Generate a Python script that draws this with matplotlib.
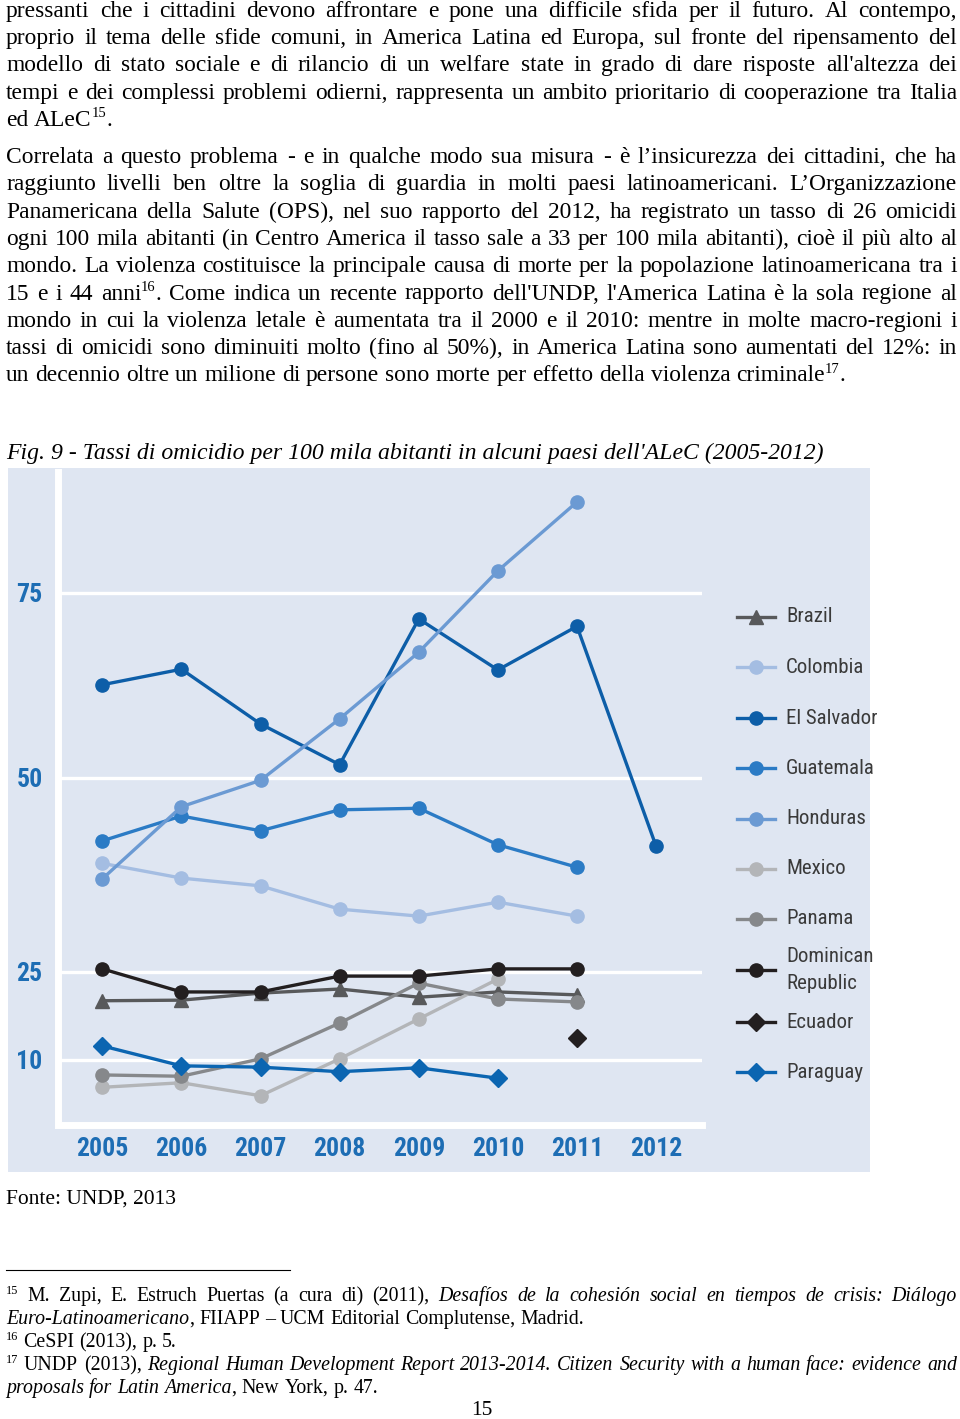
import numpy as np
import matplotlib
matplotlib.use("Agg")
import matplotlib.pyplot as plt
from matplotlib import font_manager
from matplotlib.lines import Line2D
from matplotlib.patches import Rectangle

W, H = 960, 1419
nan = np.nan

# ---- data: homicide rates per 100k inhabitants ----
years = [2005, 2006, 2007, 2008, 2009, 2010, 2011, 2012]
brazil = [20.1, 20.2, 21.4, 22.1, 20.7, 21.6, 21.1, nan]
colombia = [39.0, 37.1, 36.1, 33.1, 32.2, 34.0, 32.2, nan]
el_salvador = [62.6, 64.7, 57.3, 51.8, 71.5, 64.6, 70.5, 41.2]
guatemala = [41.9, 45.1, 43.2, 45.9, 46.1, 41.4, 38.5, nan]
honduras = [37.0, 46.3, 49.7, 58.0, 67.0, 78.0, 87.3, nan]
mexico = [5.8, 6.5, 4.5, 10.2, 17.0, 23.8, nan, nan]
panama = [7.7, 7.5, 10.2, 16.3, 23.1, 20.4, 19.9, nan]
dominican_rep = [25.4, 21.6, 21.6, 24.3, 24.3, 25.4, 25.4, nan]
ecuador = [nan, nan, nan, nan, nan, nan, 13.8, nan]
paraguay = [12.4, 9.1, 8.9, 8.2, 8.8, 7.2, nan, nan]

countries = ["Brazil", "Colombia", "El Salvador", "Guatemala", "Honduras",
             "Mexico", "Panama", "Dominican\nRepublic", "Ecuador", "Paraguay"]
series = [brazil, colombia, el_salvador, guatemala, honduras,
          mexico, panama, dominican_rep, ecuador, paraguay]
colors = ["#58595b", "#a4bde2", "#0d5ea8", "#2b7bc5", "#6b9ad3",
          "#b3b5b8", "#86888b", "#231f20", "#231f20", "#0b65b1"]
markers = ["^", "o", "o", "o", "o", "o", "o", "o", "D", "D"]
y_ticks = [10, 25, 50, 75]

# the original chart uses an uneven vertical scale; anchor values -> positions
scale_vals = [0, 10, 25, 50, 75, 100]
scale_pos = [0, 65, 153, 347, 532, 717]


def fwd(v):
    v = np.asarray(v, dtype=float)
    out = np.interp(v, scale_vals, scale_pos)
    return np.where(np.isnan(v), nan, out)


def inv(p):
    p = np.asarray(p, dtype=float)
    out = np.interp(p, scale_pos, scale_vals)
    return np.where(np.isnan(p), nan, out)


names = {f.name for f in font_manager.fontManager.ttflist}
COND = next((n for n in ["Liberation Sans Narrow", "Roboto Condensed",
                         "Open Sans Condensed", "DejaVu Sans"] if n in names), "DejaVu Sans")
SERIF = "Liberation Serif"
BG = "#dfe6f2"
BLUE = "#1d6db4"

fig = plt.figure(figsize=(W / 100, H / 100), dpi=100)
renderer = fig.canvas.get_renderer()


def fy(y):
    return 1 - y / H


# ---- running text helpers (justified lines) ----
def split_words(runs):
    words = [[]]
    for txt, st in runs:
        parts = txt.split(" ")
        for k, p in enumerate(parts):
            if k > 0:
                words.append([])
            if p:
                words[-1].append((p, st))
    return [w for w in words if w]


def space_width(size, style):
    a = fig.text(0, 0, "a a", fontsize=size, family=SERIF, style=style)
    b = fig.text(0, 0, "aa", fontsize=size, family=SERIF, style=style)
    w = a.get_window_extent(renderer).width - b.get_window_extent(renderer).width
    a.remove()
    b.remove()
    return w


def draw_line(y, runs, size, justify, x0=6, x1=957):
    words = split_words(runs)
    placed = []
    total = 0
    for w in words:
        pieces = []
        ww = 0
        for txt, st in w:
            if st == "s":
                t = fig.text(0, 0, txt, fontsize=size * 0.62, family=SERIF,
                             va="baseline")
                dy = -size * 1.389 * 0.36
            else:
                t = fig.text(0, 0, txt, fontsize=size, family=SERIF,
                             style="italic" if st == "i" else "normal",
                             va="baseline")
                dy = 0
            wd = t.get_window_extent(renderer).width
            pieces.append((t, wd, dy))
            ww += wd
        placed.append(pieces)
        total += ww
    if justify and len(words) > 1:
        gap = (x1 - x0 - total) / (len(words) - 1)
    else:
        gap = space_width(size, "normal")
    x = x0
    for pieces in placed:
        for t, wd, dy in pieces:
            t.set_position((x / W, fy(y + dy)))
            x += wd
        x += gap


BODY = 16.9
para1 = [
    [("pressanti che i cittadini devono affrontare e pone una difficile sfida per il futuro. Al contempo,", "n")],
    [("proprio il tema delle sfide comuni, in America Latina ed Europa, sul fronte del ripensamento del", "n")],
    [("modello di stato sociale e di rilancio di un welfare state in grado di dare risposte all'altezza dei", "n")],
    [("tempi e dei complessi problemi odierni, rappresenta un ambito prioritario di cooperazione tra Italia", "n")],
    [("ed ALeC", "n"), ("15", "s"), (".", "n")],
]
para2 = [
    [("Correlata a questo problema - e in qualche modo sua misura - è l\u2019insicurezza dei cittadini, che ha", "n")],
    [("raggiunto livelli ben oltre la soglia di guardia in molti paesi latinoamericani. L\u2019Organizzazione", "n")],
    [("Panamericana della Salute (OPS), nel suo rapporto del 2012, ha registrato un tasso di 26 omicidi", "n")],
    [("ogni 100 mila abitanti (in Centro America il tasso sale a 33 per 100 mila abitanti), cioè il più alto al", "n")],
    [("mondo. La violenza costituisce la principale causa di morte per la popolazione latinoamericana tra i", "n")],
    [("15 e i 44 anni", "n"), ("16", "s"), (". Come indica un recente rapporto dell'UNDP, l'America Latina è la sola regione al", "n")],
    [("mondo in cui la violenza letale è aumentata tra il 2000 e il 2010: mentre in molte macro-regioni i", "n")],
    [("tassi di omicidi sono diminuiti molto (fino al 50%), in America Latina sono aumentati del 12%: in", "n")],
    [("un decennio oltre un milione di persone sono morte per effetto della violenza criminale", "n"), ("17", "s"), (".", "n")],
]
for i, runs in enumerate(para1):
    draw_line(16.7 + i * 27.3, runs, BODY, i < len(para1) - 1)
for i, runs in enumerate(para2):
    draw_line(163 + i * 27.3, runs, BODY, i < len(para2) - 1)

# caption (condensed italic in the original -> fit to its width)
cap = "Fig. 9 - Tassi di omicidio per 100 mila abitanti in alcuni paesi dell'ALeC (2005-2012)"
t = fig.text(6 / W, fy(459), cap, fontsize=BODY, family=SERIF, style="italic", va="baseline")
t.set_fontsize(BODY * 816 / t.get_window_extent(renderer).width)

# source
fig.text(6 / W, fy(1204), "Fonte: UNDP, 2013", fontsize=15.5, family=SERIF, va="baseline")

# footnotes
FN = 14.3
fig.add_artist(Line2D([6 / W, 290 / W], [fy(1270), fy(1270)], color="black", lw=0.8))
draw_line(1301, [("15", "s"), (" M. Zupi, E. Estruch Puertas (a cura di) (2011), ", "n"),
                 ("Desafíos de la cohesión social en tiempos de crisis: Diálogo", "i")], FN, True)
draw_line(1324, [("Euro-Latinoamericano", "i"), (", FIIAPP \u2013 UCM Editorial Complutense, Madrid.", "n")], FN, False)
draw_line(1347, [("16", "s"), (" CeSPI (2013), p. 5.", "n")], FN, False)
draw_line(1370, [("17", "s"), (" UNDP (2013), ", "n"),
                 ("Regional Human Development Report 2013-2014. Citizen Security with a human face: evidence and", "i")],
          FN, True)
draw_line(1393, [("proposals for Latin America", "i"), (", New York, p. 47.", "n")], FN, False)

fig.text(482 / W, fy(1415), "15", fontsize=15.5, family=SERIF, va="baseline", ha="center")

# ---- chart ----
fig.add_artist(Rectangle((8 / W, fy(1172)), (870 - 8) / W, (1172 - 468) / H,
                         transform=fig.transFigure, facecolor=BG, edgecolor="none", zorder=-5))

ax = fig.add_axes([58 / W, fy(1125), (702 - 58) / W, (1125 - 472) / H])
ax.set_facecolor(BG)
ax.set_yscale("function", functions=(fwd, inv))
ax.set_ylim(0, 91.35)
ax.set_xlim(2004.44, 2012.58)

for vals, c, m in zip(series, colors, markers):
    ms = 10.5 if m == "^" else (9 if m == "D" else 9.5)
    ax.plot(years, vals, color=c, lw=2.4, marker=m, ms=ms, mec=c, mfc=c, zorder=3)

ax.set_yticks(y_ticks)
ax.set_yticklabels([str(v) for v in y_ticks])
ax.set_xticks(years)
ax.set_xticklabels([str(v) for v in years])
ax.yaxis.grid(True, color="white", lw=2.4)
ax.xaxis.grid(False)
ax.set_axisbelow(True)
ax.tick_params(length=0)
ax.tick_params(axis="y", pad=11)
ax.tick_params(axis="x", pad=9)
for lab in ax.get_yticklabels() + ax.get_xticklabels():
    lab.set_fontfamily(COND)
    lab.set_fontweight("bold")
    lab.set_fontsize(18.5)
    lab.set_color(BLUE)
for s in ["top", "right"]:
    ax.spines[s].set_visible(False)
for s in ["left", "bottom"]:
    ax.spines[s].set_color("white")
    ax.spines[s].set_linewidth(5)

# legend drawn by hand to keep the original spacing
leg_y = [617, 667, 718, 768, 819, 869, 919, 970, 1022, 1072]
for name, c, m, ly in zip(countries, colors, markers, leg_y):
    ms = 10.5 if m == "^" else (9 if m == "D" else 9.5)
    fig.add_artist(Line2D([737 / W, 775 / W], [fy(ly), fy(ly)], color=c, lw=2.4))
    fig.add_artist(Line2D([756 / W], [fy(ly)], color=c, marker=m, ms=ms, mfc=c, mec=c))
    fig.text(786 / W, fy(ly), name, fontsize=15, family=COND, color="#3a3a3a",
             va="center", ha="left", linespacing=1.5)

fig.savefig("out.png", dpi=100)
